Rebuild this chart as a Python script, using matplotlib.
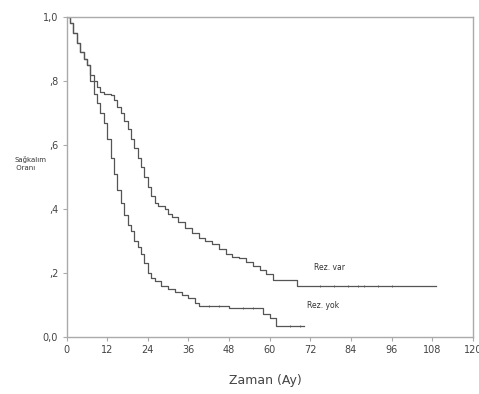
import matplotlib
matplotlib.use("Agg")
import matplotlib.pyplot as plt

# Kaplan-Meier survival estimates (time in months, survival proportion)
var_time = [0, 1, 2, 3, 4, 5, 6, 7, 8, 9, 10, 11, 13, 14, 15, 16, 17, 18, 19, 20,
            21, 22, 23, 24, 25, 26, 27, 29, 30, 31, 33, 35, 37, 39, 41, 43, 45, 47,
            49, 51, 53, 55, 57, 59, 61, 68, 109]
var_surv = [1.0, 0.98, 0.95, 0.92, 0.89, 0.87, 0.85, 0.82, 0.80, 0.78, 0.765, 0.76,
            0.755, 0.74, 0.72, 0.70, 0.675, 0.65, 0.62, 0.59, 0.56, 0.53, 0.50, 0.47,
            0.44, 0.42, 0.41, 0.40, 0.385, 0.375, 0.36, 0.34, 0.325, 0.31, 0.30, 0.29,
            0.275, 0.26, 0.25, 0.245, 0.235, 0.22, 0.21, 0.195, 0.178, 0.16, 0.16]
var_cens = [75, 79, 83, 86, 88, 92, 96]

yok_time = [0, 1, 2, 3, 4, 5, 6, 7, 8, 9, 10, 11, 12, 13, 14, 15, 16, 17, 18, 19,
            20, 21, 22, 23, 24, 25, 26, 28, 30, 32, 34, 36, 38, 39, 48, 58, 60, 62, 70]
yok_surv = [1.0, 0.98, 0.95, 0.92, 0.89, 0.87, 0.85, 0.80, 0.76, 0.73, 0.70, 0.67,
            0.62, 0.56, 0.51, 0.46, 0.42, 0.38, 0.35, 0.33, 0.30, 0.28, 0.26, 0.23,
            0.20, 0.185, 0.175, 0.16, 0.15, 0.14, 0.13, 0.12, 0.105, 0.097, 0.09,
            0.07, 0.06, 0.035, 0.035]
yok_cens = [42, 45, 52, 55, 66, 69]

x_ticks = [0, 12, 24, 36, 48, 60, 72, 84, 96, 108, 120]
y_ticks = [0.0, 0.2, 0.4, 0.6, 0.8, 1.0]
y_tick_labels = ["0,0", ",2", ",4", ",6", ",8", "1,0"]


def surv_at(times, surv, t):
    val = surv[0]
    for ti, si in zip(times, surv):
        if ti <= t:
            val = si
    return val


fig = plt.figure(figsize=(4.79, 3.94), dpi=100)
ax = fig.add_axes([0.139, 0.145, 0.848, 0.812])

line_col = "#555555"
ax.step(var_time, var_surv, where="post", color=line_col, lw=0.9)
ax.step(yok_time, yok_surv, where="post", color=line_col, lw=0.9)
ax.plot(var_cens, [surv_at(var_time, var_surv, t) for t in var_cens], ls="none",
        marker="|", ms=2, mew=0.6, color=line_col)
ax.plot(yok_cens, [surv_at(yok_time, yok_surv, t) for t in yok_cens], ls="none",
        marker="|", ms=2, mew=0.6, color=line_col)

ax.text(73, 0.21, "Rez. var", fontsize=5.5, color="#333333")
ax.text(71, 0.09, "Rez. yok", fontsize=5.5, color="#333333")

ax.set_xlim(0, 120)
ax.set_ylim(0, 1.0)
ax.set_xticks(x_ticks)
ax.set_yticks(y_ticks)
ax.set_yticklabels(y_tick_labels)

for s in ax.spines.values():
    s.set_color("#aaaaaa")
    s.set_linewidth(1.0)
ax.tick_params(axis="both", colors="#aaaaaa", labelcolor="#444444",
               labelsize=7, length=3, width=0.8, direction="out", pad=3)

fig.text(0.03, 0.585, "Sağkalım\n Oranı", fontsize=5, color="#333333",
         va="center", ha="left", linespacing=1.4)
fig.text(0.553, 0.035, "Zaman (Ay)", fontsize=9, color="#444444",
         ha="center", va="center")

fig.savefig("out.png", dpi=100)
